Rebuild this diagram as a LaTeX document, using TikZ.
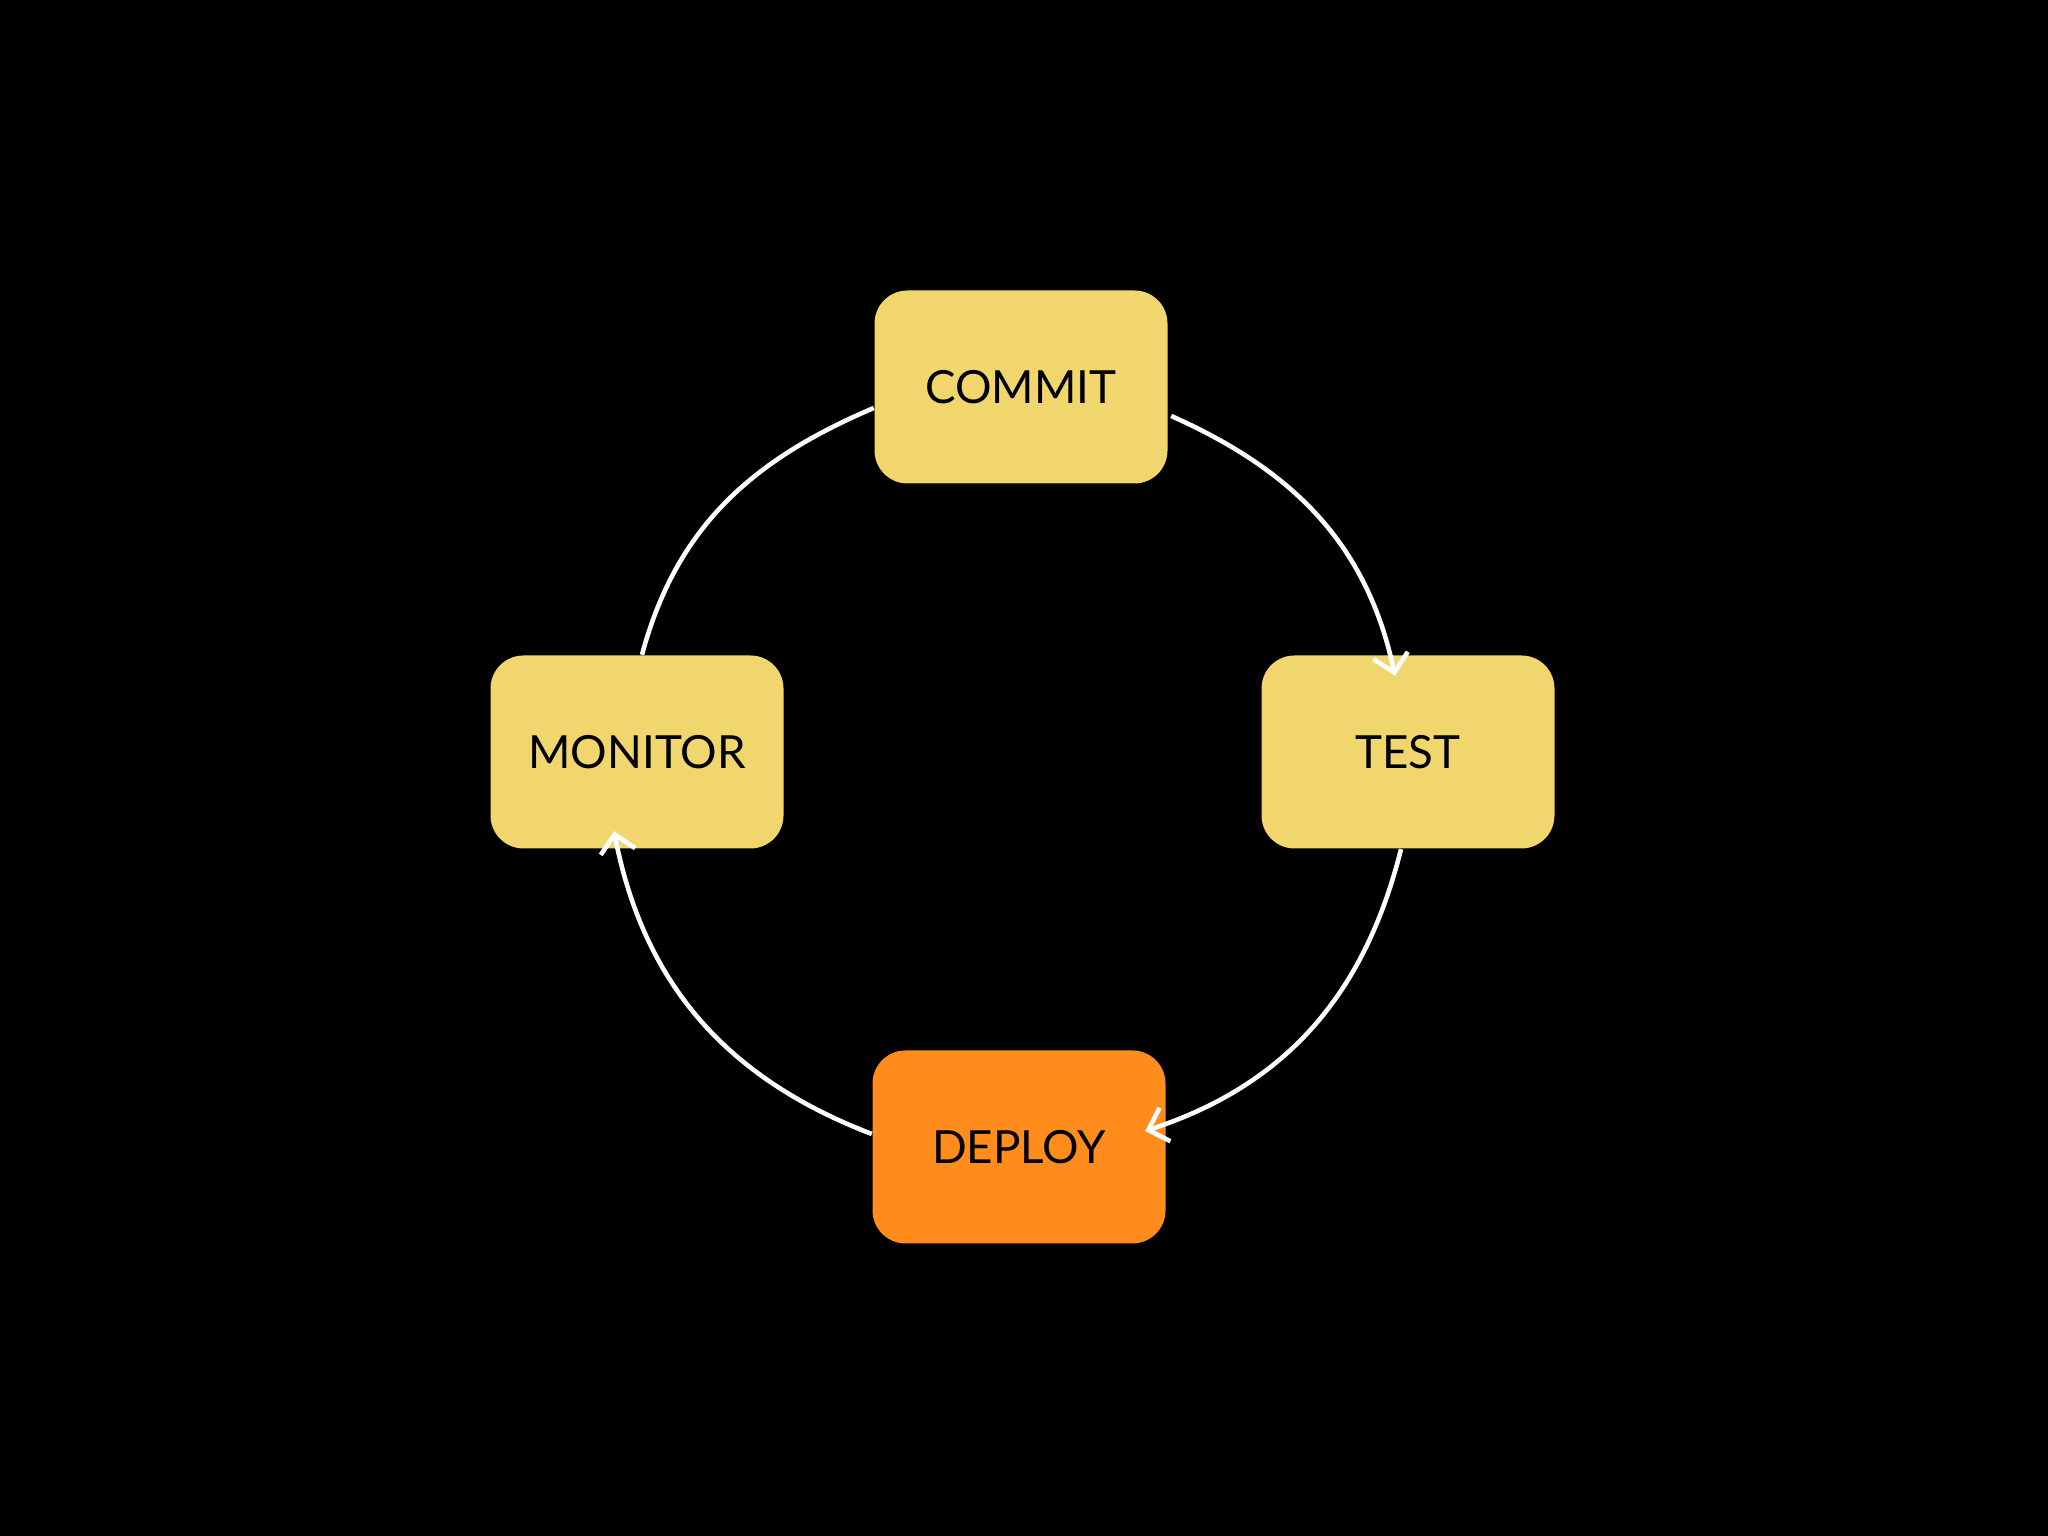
\documentclass[tikz,border=0pt]{standalone}
\usepackage{fontspec}
\setmainfont{Lato}
\usetikzlibrary{calc,arrows.meta}
\definecolor{boxy}{HTML}{F0D66C}
\definecolor{boxo}{HTML}{FF8C1C}
\begin{document}
\begin{tikzpicture}
\useasboundingbox (0,0) rectangle (20.48,15.36);
\fill[black] (0,0) rectangle (20.48,15.36);
\tikzset{
  stage/.style={fill=boxy, rounded corners=0.33cm, minimum width=2.93cm, minimum height=1.93cm, inner sep=0pt, font=\fontsize{13}{15}\selectfont, text=black},
  flow/.style={draw=white, line width=1.3pt},
  tipped/.style={flow, -{Straight Barb[length=5pt,width=10pt,line width=1.3pt]}}
}
\node[stage] (commit) at (10.21,11.49) {COMMIT};
\node[stage] (test) at (14.08,7.84) {TEST};
\node[stage] (monitor) at (6.37,7.84) {MONITOR};
\node[stage, fill=boxo] (deploy) at (10.19,3.89) {DEPLOY};
\coordinate (c1) at ($(commit.east)+(0.03,-0.29)$);
\coordinate (t1) at ($(test.north)+(-0.13,-0.21)$);
\coordinate (t2) at ($(test.south)+(-0.07,0)$);
\coordinate (d1) at ($(deploy.east)+(-0.21,0.16)$);
\coordinate (d2) at ($(deploy.west)+(0,0.13)$);
\coordinate (m1) at ($(monitor.south)+(-0.23,0.18)$);
\coordinate (m2) at ($(monitor.north)+(0.05,0)$);
\coordinate (c2) at ($(commit.west)+(0,-0.21)$);
\draw[tipped] (c1) to[out=-24,in=102] (t1);
\draw[tipped] (t2) to[out=-104,in=18] (d1);
\draw[tipped] (d2) to[out=159,in=-79] (m1);
\draw[flow] (m2) to[out=75,in=-157] (c2);
\end{tikzpicture}
\end{document}
